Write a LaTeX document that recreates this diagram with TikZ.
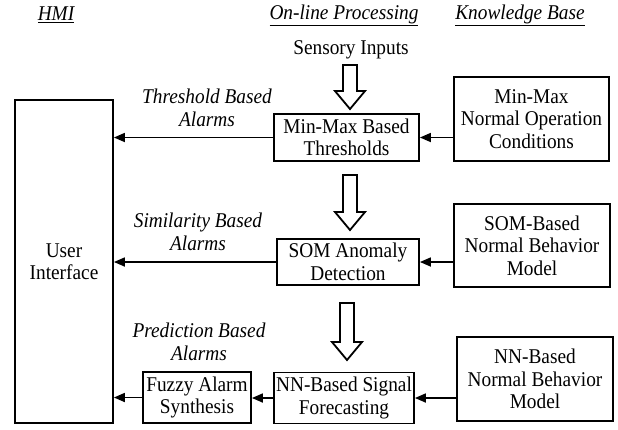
\documentclass[tikz,border=0pt]{standalone}
\usepackage{fontspec}
\setmainfont[FakeStretch=0.92]{Liberation Serif}
\usetikzlibrary{arrows.meta}
\tikzset{
  box/.style={draw, line width=1.8pt, inner sep=0pt, align=center, font=\fontsize{21}{22.5}\selectfont},
  txt/.style={inner sep=0pt, align=center, font=\fontsize{21}{22.5}\selectfont},
  lab/.style={inner sep=0pt, align=center, font=\fontsize{21}{22.5}\selectfont\itshape},
  hdr/.style={inner sep=0pt, font=\fontsize{21}{22.5}\selectfont\itshape},
  conn/.style={line width=1.7pt, -{Triangle[length=11pt,width=9pt]}},
  hollow/.style={line width=1.8pt, fill=white, line join=miter}
}
\newcommand\hollowarrow[3]{%
  \draw[hollow] (#1-7,#2) -- (#1+7,#2) -- (#1+7,#3-18) -- (#1+15,#3-18)
    -- (#1,#3) -- (#1-15,#3-18) -- (#1-7,#3-18) -- cycle;}
\begin{document}
\begin{tikzpicture}[x=1pt,y=-1pt]
\useasboundingbox (0,0) rectangle (618,429);
% headers
\node[hdr] (h1) at (56,15) {\underline{HMI}};
\node[hdr] (h2) at (344,15) {\underline{On-line Processing}};
\node[hdr] (h3) at (520,15) {\underline{Knowledge Base}};
\node[txt] (sens) at (351,50) {Sensory Inputs};
% boxes
\node[box, minimum width=98pt, minimum height=323pt] (ui) at (64,261.5) {User\\Interface};
\node[box, minimum width=145pt, minimum height=47pt] (mm) at (346.5,137.5) {Min-Max Based\\Thresholds};
\node[box, minimum width=155pt, minimum height=84pt] (mmkb) at (531.5,119) {Min-Max\\Normal Operation\\Conditions};
\node[box, minimum width=142pt, minimum height=46pt] (som) at (348,262) {SOM Anomaly\\Detection};
\node[box, minimum width=156pt, minimum height=83pt] (somkb) at (532,245.5) {SOM-Based\\Normal Behavior\\Model};
\node[box, minimum width=140pt, minimum height=51pt] (nnf) at (344,398) {NN-Based Signal\\Forecasting};
\node[box, minimum width=108pt, minimum height=51pt] (fz) at (197,397.5) {Fuzzy Alarm\\Synthesis};
\node[box, minimum width=156pt, minimum height=84pt] (nnkb) at (535,379) {NN-Based\\Normal Behavior\\Model};
% labels
\node[lab] (l1) at (207,108) {Threshold Based\\Alarms};
\node[lab] (l2) at (198,232) {Similarity Based\\Alarms};
\node[lab] (l3) at (199,342) {Prediction Based\\Alarms};
% hollow arrows
\hollowarrow{350}{65}{109}
\hollowarrow{350}{175}{230}
\hollowarrow{347}{303}{360}
% connectors
\draw[conn] (mmkb.west |- mm.east) -- (mm.east);
\draw[conn] (mm.west) -- (ui.east |- mm.west);
\draw[conn] (somkb.west |- som.east) -- (som.east);
\draw[conn] (som.west) -- (ui.east |- som.west);
\draw[conn] (nnkb.west |- nnf.east) -- (nnf.east);
\draw[conn] (nnf.west) -- (fz.east |- nnf.west);
\draw[conn] (fz.west) -- (ui.east |- fz.west);
\end{tikzpicture}
\end{document}
